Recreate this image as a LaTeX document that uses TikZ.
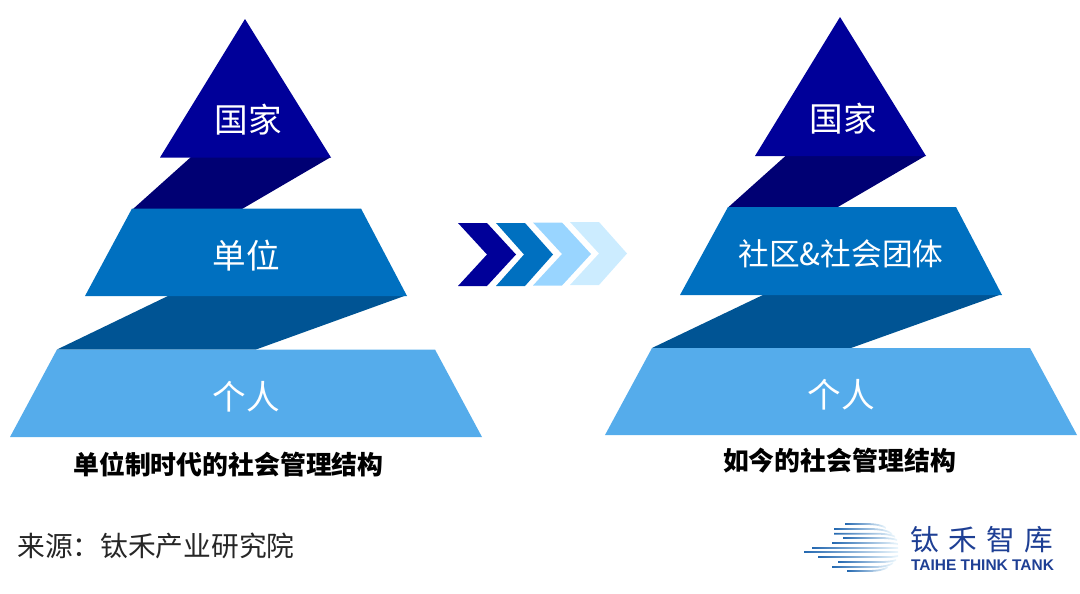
\documentclass[tikz,border=0pt]{standalone}
\usepackage{fontspec}
\setmainfont{Liberation Sans}
\newfontfamily\cjk{Noto Sans CJK SC}
\definecolor{navy}{HTML}{000099}
\definecolor{navyd}{HTML}{000073}
\definecolor{midb}{HTML}{0070C0}
\definecolor{midd}{HTML}{005494}
\definecolor{lightb}{HTML}{55ACEB}
\definecolor{chev3}{HTML}{99D5FF}
\definecolor{chev4}{HTML}{CCECFF}
\definecolor{logob}{HTML}{1E3F94}
\definecolor{logol}{HTML}{2468B0}
\definecolor{logom}{HTML}{5CB8EA}
\tikzset{
  px/.style={x=0.75pt,y=-0.75pt},
  tier/.style={font=\cjk\fontsize{25.2}{25}\selectfont,text=white,inner sep=0pt},
  captext/.style={font=\cjk\bfseries\fontsize{19.4}{20}\selectfont,text=black,inner sep=0pt},
}
% x-start, x-flat-end, x-end, y, end-offset
\newcommand{\lline}[5]{\shade[left color=logol,middle color=logom,right color=logom!12]
  (#1,#4-0.9) -- (#2,#4-0.9) .. controls (#2*0.5+#3*0.5,#4-0.9) and (#3-3,#4+#5*0.4-0.9) .. (#3,#4+#5-0.9)
  -- (#3,#4+#5+0.9) .. controls (#3-3,#4+#5*0.4+0.9) and (#2*0.5+#3*0.5,#4+0.9) .. (#2,#4+0.9) -- (#1,#4+0.9) -- cycle;}
\begin{document}
\begin{tikzpicture}[px]
\useasboundingbox (0,0) rectangle (1080,593);
% left pyramid
\fill[navyd] (191,157) -- (331,157) -- (242,209) -- (133,209) -- cycle;
\fill[navy] (245,19) -- (331,157.5) -- (160,157.5) -- cycle;
\fill[midd] (170,295) -- (407,295) -- (256,349.5) -- (57,349.5) -- cycle;
\fill[midb] (132,208.5) -- (361,208.5) -- (407,296) -- (85,296) -- cycle;
\fill[lightb] (57,349.5) -- (435,349.5) -- (482,437) -- (10,437) -- cycle;
\node[tier] (a1) at (248,120) {国家};
\node[tier] (a2) at (246,256) {单位};
\node[tier] (a3) at (246,396.5) {个人};
\node[captext] (c1) at (228.5,464) {单位制时代的社会管理结构};
% right pyramid
\fill[navyd] (786,155.5) -- (926,155.5) -- (837,207.5) -- (728,207.5) -- cycle;
\fill[navy] (840,17) -- (926,156) -- (755,156) -- cycle;
\fill[midd] (765,294) -- (1002,294) -- (851,348) -- (652,348) -- cycle;
\fill[midb] (728,207) -- (956,207) -- (1002,295) -- (680,295) -- cycle;
\fill[lightb] (652,348) -- (1030,348) -- (1077,435) -- (605,435) -- cycle;
\node[tier] (b1) at (843,118.5) {国家};
\node[tier,font=\cjk\fontsize{23}{23}\selectfont] (b2) at (841,253.5) {社区\&社会团体};
\node[tier] (b3) at (841,395) {个人};
\node[captext] (c2) at (839.5,461) {如今的社会管理结构};
% chevrons
\fill[navy] (458,223) -- (487,223) -- (516,254.5) -- (487,286) -- (458,286) -- (487,254.5) -- cycle;
\fill[midb] (496,223) -- (525,223) -- (553,254.5) -- (525,286) -- (496,286) -- (524,254.5) -- cycle;
\fill[chev3] (533,222.5) -- (562,222.5) -- (591,254) -- (562,285.5) -- (533,285.5) -- (562,254) -- cycle;
\fill[chev4] (570,222) -- (599,222) -- (627,253.5) -- (599,285) -- (570,285) -- (599,253.5) -- cycle;
% source
\node[font=\cjk\fontsize{20.8}{21}\selectfont,text=black!85,anchor=west,inner sep=0pt] (src) at (17,545.5) {来源：钛禾产业研究院};
% logo
\lline{845}{866}{886}{524}{4}
\lline{834}{870}{892}{529}{5}
\lline{834}{876}{895}{533.7}{3}
\lline{843}{880}{897}{538}{2}
\lline{832}{885}{898}{543}{1}
\lline{812}{890}{898}{548}{0}
\lline{804}{890}{898}{552}{0}
\lline{818}{888}{898}{557}{-1}
\lline{838}{880}{896}{562}{-2}
\lline{832}{874}{893}{567}{-4}
\lline{847}{868}{888}{571}{-4}
\node[font=\cjk\fontsize{21.5}{22}\selectfont,text=logob,inner sep=0pt] (l1) at (982,540) {钛\hspace{0.32em}禾\hspace{0.32em}智\hspace{0.32em}库};
\node[font=\bfseries\fontsize{11.6}{12}\selectfont,text=logob,inner sep=0pt] (l2) at (982.5,565) {TAIHE THINK TANK};
\end{tikzpicture}
\end{document}
